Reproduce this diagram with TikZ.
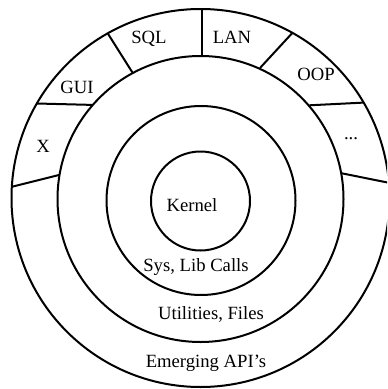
\documentclass[tikz,border=0pt]{standalone}
\usepackage{fontspec}
\setmainfont{Liberation Serif}
\begin{document}
\begin{tikzpicture}[x=0.75pt,y=0.75pt,yscale=-1,xscale=1,
    ring/.style={line width=1.5pt},
    lbl/.style={inner sep=0.75pt,anchor=base,font=\fontsize{14}{16}\selectfont}]
    \useasboundingbox (0,0) rectangle (387,389);
    \clip (0,0) rectangle (387,389);
    %Shape: Circle [kernel]
    \draw [ring] (200.5,201) circle (49.5) ;
    %Shape: Circle [sys, lib]
    \draw [ring] (201,200.5) circle (94.5) ;
    %Shape: Circle [utilities]
    \draw [ring] (200.5,199) circle (143) ;
    %Shape: Circle [emerging]
    \draw [ring] (200.5,198) circle (189) ;
    %Straight Lines [X / GUI]
    \draw [ring] (92,104.9) -- (36.8,103.5) ;
    %Straight Lines [GUI / SQL]
    \draw [ring] (132.3,72.3) -- (107.7,33.3) ;
    %Straight Lines [SQL / LAN]
    \draw [ring] (202,55.5) -- (202,9) ;
    %Straight Lines [LAN / OOP]
    \draw [ring] (260,68) -- (292.4,32.9) ;
    %Straight Lines [OOP / ...]
    \draw [ring] (309.4,105.3) -- (363.7,102.6) ;
    %Straight Lines [... / API]
    \draw [ring] (341.3,173.2) -- (388.9,182.8) ;
    %Straight Lines [X / API]
    \draw [ring] (59.4,174.9) -- (11.8,186.8) ;

    % Text Node
    \draw (192,211) node (kernel) [lbl] {Kernel};
    % Text Node
    \draw (196,271) node (syscalls) [lbl] {Sys, Lib Calls};
    % Text Node
    \draw (211,319) node (utils) [lbl] {Utilities, Files};
    % Text Node
    \draw (206,367) node (api) [lbl] {Emerging API's};
    % Text Node
    \draw (43,152) node (xwin) [lbl] {X};
    % Text Node
    \draw (77,93) node (gui) [lbl] {GUI};
    % Text Node
    \draw (149,43) node (sql) [lbl] {SQL};
    % Text Node
    \draw (232,43) node (lan) [lbl] {LAN};
    % Text Node
    \draw (316,80) node (oop) [lbl] {OOP};
    % Text Node
    \draw (351,139) node (more) [lbl] {...};
\end{tikzpicture}
\end{document}
